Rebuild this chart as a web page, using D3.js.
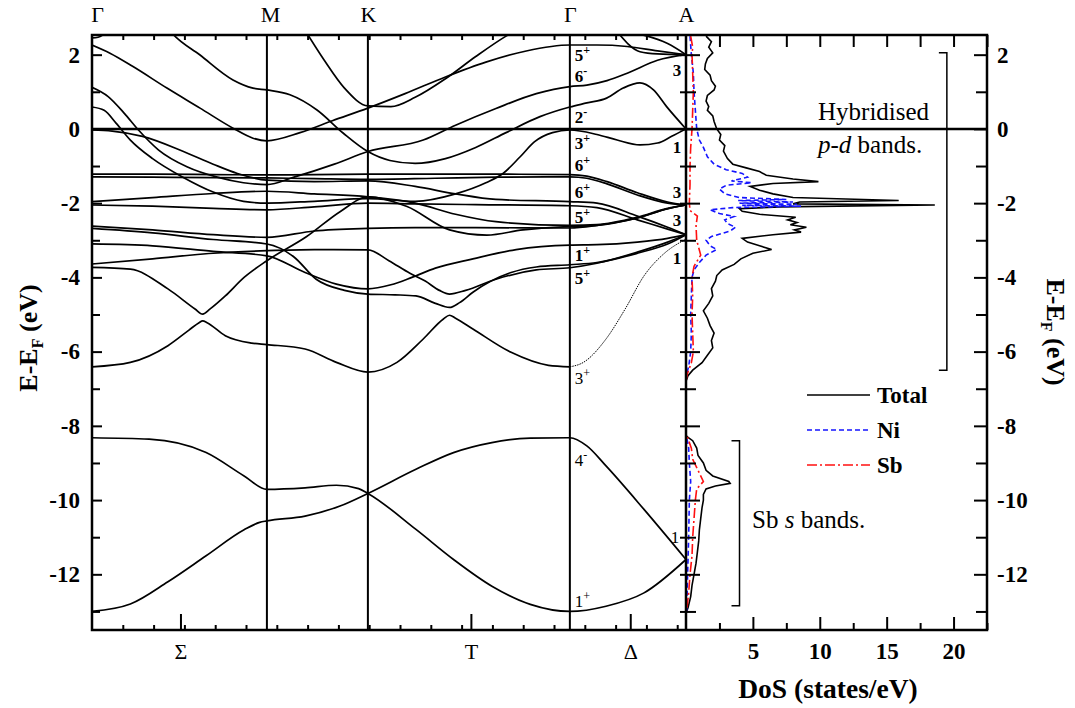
<!DOCTYPE html>
<html>
<head>
<meta charset="utf-8">
<script src="https://cdn.jsdelivr.net/npm/d3@7"></script>
<style>
  body { margin: 0; background: #fff; }
  svg text { font-family: "Liberation Serif", "Times New Roman", serif; fill: #000; }
</style>
</head>
<body>
<svg id="chart" width="1075" height="708"></svg>
<script>
// high symmetry points along the path (distance in reciprocal space)
const kPoints = [0, 0.866, 1.366, 2.366, 2.941];
const kNames = ["Γ", "M", "K", "Γ", "A"];
const kMid = [0.438, 1.876, 2.665];
const kMidNames = ["Σ", "T", "Δ"];

const energyMajor = [-12, -10, -8, -6, -4, -2, 0, 2];
const energyMinor = [-13, -11, -9, -7, -5, -3, -1, 1];
const dosMajor = [5, 10, 15, 20];
const dosMinor = [2.5, 7.5, 12.5, 17.5, 22.5];

// bands: [k, E-EF]
const bandSbLow = [[0,-13.0],[0.19,-12.8],[0.376,-12.2],[0.565,-11.5],[0.753,-10.8],[0.83,-10.6],[0.866,-10.56],[1.055,-10.43],[1.228,-10.16],[1.366,-9.82],[1.604,-9.17],[1.79,-8.72],[1.98,-8.45],[2.17,-8.33],[2.366,-8.32],[2.45,-8.54],[2.545,-9.08],[2.733,-10.25],[2.941,-11.6]];
const bandSbHigh = [[0,-8.32],[0.283,-8.36],[0.565,-8.72],[0.753,-9.35],[0.866,-9.71],[1.055,-9.67],[1.21,-9.6],[1.32,-9.69],[1.366,-9.82],[1.604,-10.79],[1.79,-11.6],[1.98,-12.32],[2.17,-12.81],[2.366,-13.0],[2.545,-12.86],[2.733,-12.5],[2.941,-11.6]];
const band3p = [[0,-6.41],[0.19,-6.29],[0.376,-5.84],[0.48,-5.42],[0.53,-5.22],[0.548,-5.17],[0.57,-5.22],[0.66,-5.57],[0.79,-5.77],[0.866,-5.81],[1.055,-5.93],[1.21,-6.29],[1.366,-6.55],[1.51,-6.29],[1.64,-5.66],[1.74,-5.12],[1.77,-5.02],[1.8,-5.1],[1.886,-5.39],[2.075,-6.02],[2.26,-6.37],[2.366,-6.41]];
const band3pA = [[2.366,-6.41],[2.433,-6.29],[2.545,-5.66],[2.64,-4.85],[2.733,-3.96],[2.83,-3.37],[2.941,-2.97]];
const bandD1 = [[0,-3.73],[0.19,-3.78],[0.376,-4.31],[0.51,-4.85],[0.548,-4.99],[0.585,-4.85],[0.66,-4.5],[0.753,-4.0],[0.866,-3.55],[1.063,-2.9],[1.228,-2.23],[1.366,-1.83],[1.56,-2.09],[1.77,-2.72],[1.955,-2.86],[2.134,-2.72],[2.366,-2.63],[2.5,-2.6],[2.7,-2.4],[2.85,-2.15],[2.941,-2.05]];
const bandD2 = [[0,-3.64],[0.3,-3.5],[0.6,-3.35],[0.866,-3.28],[1.1,-3.25],[1.366,-3.26],[1.47,-3.55],[1.574,-3.89],[1.65,-4.1],[1.72,-4.35],[1.77,-4.45],[1.85,-4.35],[2.0,-4.05],[2.2,-3.8],[2.366,-3.74],[2.5,-3.62],[2.7,-3.32],[2.85,-3.05],[2.941,-2.85]];
const bandD3 = [[0,-3.1],[0.3,-3.15],[0.6,-3.3],[0.866,-3.42],[1.055,-3.87],[1.21,-4.18],[1.366,-4.31],[1.48,-4.2],[1.584,-4.0],[1.7,-3.75],[1.886,-3.5],[2.1,-3.25],[2.366,-3.13],[2.5,-3.12],[2.7,-3.05],[2.85,-2.95],[2.941,-2.85]];
const bandD4 = [[0,-2.68],[0.3,-2.8],[0.6,-2.98],[0.866,-3.1],[1.0,-3.45],[1.11,-4.05],[1.25,-4.35],[1.366,-4.45],[1.5,-4.47],[1.604,-4.5],[1.7,-4.7],[1.77,-4.81],[1.82,-4.68],[1.886,-4.4],[2.075,-3.87],[2.2,-3.72],[2.366,-3.66],[2.5,-3.6],[2.7,-3.35],[2.85,-3.1],[2.941,-2.85]];
const bandD5 = [[0,-2.62],[0.3,-2.72],[0.6,-2.85],[0.866,-2.92],[1.1,-2.75],[1.366,-2.68],[1.6,-2.66],[1.9,-2.66],[2.366,-2.67],[2.5,-2.6],[2.7,-2.4],[2.85,-2.15],[2.941,-2.05]];
const bandD6 = [[0,-2.05],[0.3,-2.08],[0.6,-2.14],[0.866,-2.18],[1.1,-2.1],[1.366,-2.0],[1.6,-2.02],[1.9,-2.04],[2.366,-2.07],[2.5,-2.12],[2.7,-2.45],[2.85,-2.7],[2.941,-2.85]];
const bandD7 = [[0,-1.96],[0.3,-1.85],[0.6,-1.74],[0.866,-1.68],[1.1,-1.75],[1.366,-1.83],[1.6,-2.0],[1.8,-2.3],[2.0,-2.5],[2.366,-2.6],[2.5,-2.58],[2.7,-2.38],[2.85,-2.14],[2.941,-2.05]];
const bandFlat1 = [[0,-1.22],[0.3,-1.22],[0.6,-1.23],[0.866,-1.24],[1.1,-1.23],[1.366,-1.22],[1.7,-1.22],[2.0,-1.22],[2.366,-1.23],[2.45,-1.27],[2.55,-1.42],[2.7,-1.72],[2.85,-1.97],[2.941,-2.05]];
const bandFlat2 = [[0,-1.29],[0.3,-1.3],[0.6,-1.31],[0.866,-1.32],[1.1,-1.34],[1.366,-1.36],[1.7,-1.33],[2.0,-1.3],[2.366,-1.29],[2.45,-1.33],[2.55,-1.48],[2.7,-1.78],[2.85,-2.0],[2.941,-2.05]];
const bandS = [[0,-0.03],[0.1,-0.06],[0.25,-0.2],[0.45,-0.6],[0.6,-0.95],[0.72,-1.2],[0.866,-1.38],[1.1,-1.42],[1.366,-1.4],[1.6,-1.55],[1.8,-1.75],[2.0,-1.9],[2.366,-1.96],[2.5,-2.0],[2.7,-2.35],[2.85,-2.65],[2.941,-2.85]];
const bandR = [[0,0.59],[0.06,0.5],[0.12,0.15],[0.19,-0.3],[0.3,-0.8],[0.45,-1.3],[0.6,-1.7],[0.75,-1.95],[0.866,-2.0],[1.1,-1.95],[1.366,-1.88],[1.6,-1.95],[1.8,-1.75],[1.95,-1.45],[2.035,-1.2],[2.12,-0.75],[2.19,-0.35],[2.28,-0.1],[2.366,-0.03],[2.5,-0.15],[2.6,-0.3],[2.713,-0.43],[2.8,-0.38],[2.87,-0.2],[2.941,0.0]];
const bandQ = [[0,1.12],[0.08,0.87],[0.16,0.42],[0.23,-0.03],[0.33,-0.57],[0.47,-1.02],[0.62,-1.3],[0.75,-1.45],[0.866,-1.5],[1.0,-1.3],[1.2,-0.95],[1.366,-0.61],[1.64,-0.3],[1.8,0.1],[2.0,0.55],[2.2,0.95],[2.366,1.14],[2.45,1.18],[2.55,1.3],[2.65,1.5],[2.8,1.85],[2.941,2.0]];
const bandU2 = [[0.37,2.75],[0.396,2.58],[0.535,1.99],[0.698,1.32],[0.797,1.1],[0.866,1.05],[0.98,0.92],[1.114,0.51],[1.243,-0.11],[1.366,-0.61],[1.475,-0.85],[1.6,-0.93],[1.75,-0.8],[1.9,-0.5],[2.05,-0.1],[2.218,0.33],[2.366,0.59],[2.45,0.7],[2.548,0.83],[2.63,1.1],[2.713,1.24],[2.78,1.05],[2.845,0.6],[2.941,0.0]];
const bandU1 = [[0,2.26],[0.089,2.04],[0.203,1.68],[0.371,1.1],[0.535,0.56],[0.698,0.02],[0.797,-0.25],[0.866,-0.32],[1.03,-0.1],[1.19,0.22],[1.366,0.56],[1.55,0.95],[1.75,1.4],[1.95,1.8],[2.15,2.1],[2.366,2.26],[2.5,2.26],[2.65,2.22],[2.8,2.1],[2.941,2.0]];
const bandU3 = [[1.05,2.7],[1.15,1.85],[1.25,1.1],[1.366,0.62],[1.48,0.6],[1.6,0.85],[1.75,1.35],[1.9,1.95],[2.05,2.5],[2.15,2.8]];
const bandU4 = [[2.6,2.62],[2.713,2.08],[2.8,2.02],[2.941,2.0]];
const bandU5 = [[2.6,2.62],[2.75,2.5],[2.85,2.3],[2.941,2.0]];
const bandHook = [[0,2.45],[0.03,2.47],[0.06,2.55],[0.1,2.7]];

const bands = [bandSbLow, bandSbHigh, band3p, bandD1, bandD2, bandD3, bandD4, bandD5, bandD6, bandD7,
  bandFlat1, bandFlat2, bandS, bandR, bandQ, bandU2, bandU1, bandU3, bandU4, bandU5, bandHook];

// irreducible representation labels at Γ: [number, sign, E], and degeneracies at A
const gammaLabels = [["5","+",1.99],["6","-",1.43],["2","-",0.32],["3","+",-0.38],["6","+",-0.97],["6","+",-1.70],["5","+",-2.37],["1","+",-3.40],["5","+",-4.02]];
const gammaLabelsLow = [["3","+",-6.71],["4","-",-8.92],["1","+",-12.72]];
const aLabels = [["3",1.59],["1",-0.49],["3",-1.70],["3",-2.45],["1",-3.48]];
const aLabelsLow = [["1",-10.99]];

// density of states: [E-EF, states/eV]
const dosTotal = [[2.5,1.5],[2.35,1.9],[2.2,1.7],[2.05,2.0],[1.9,1.6],[1.75,1.45],[1.6,1.4],[1.45,1.8],[1.3,1.9],[1.15,2.2],[1.05,2.1],[0.9,1.6],[0.75,1.5],[0.6,1.7],[0.5,1.6],[0.35,2.0],[0.2,2.1],[0.0,2.3],[-0.15,2.6],[-0.3,2.5],[-0.45,2.9],[-0.6,2.8],[-0.8,3.1],[-0.95,3.5],[-1.05,4.5],[-1.15,5.5],[-1.25,6.0],[-1.35,8.0],[-1.42,9.9],[-1.47,6.5],[-1.55,4.8],[-1.65,5.5],[-1.75,6.5],[-1.85,8.0],[-1.93,15.9],[-1.97,8.5],[-2.02,8.0],[-2.05,18.6],[-2.1,7.0],[-2.15,4.0],[-2.22,4.2],[-2.3,5.5],[-2.38,8.2],[-2.45,7.6],[-2.52,8.3],[-2.58,7.8],[-2.65,9.0],[-2.72,8.1],[-2.78,8.6],[-2.85,6.5],[-2.95,4.2],[-3.05,4.6],[-3.15,5.5],[-3.25,6.4],[-3.35,5.0],[-3.5,4.1],[-3.65,3.6],[-3.8,2.7],[-3.95,2.3],[-4.1,2.2],[-4.3,1.9],[-4.5,2.0],[-4.7,1.7],[-4.9,1.3],[-5.1,1.6],[-5.3,1.8],[-5.5,2.1],[-5.7,1.9],[-5.9,2.0],[-6.1,1.6],[-6.3,1.2],[-6.5,0.5],[-6.65,0.15],[-6.8,0],[-8.25,0],[-8.3,0.1],[-8.4,0.5],[-8.6,0.8],[-8.8,0.9],[-9.0,1.3],[-9.2,1.5],[-9.35,2.0],[-9.5,3.2],[-9.55,3.3],[-9.62,2.2],[-9.7,1.5],[-9.85,1.3],[-10.0,1.3],[-10.2,1.2],[-10.5,1.1],[-10.8,1.0],[-11.1,0.95],[-11.4,0.85],[-11.7,0.75],[-12.0,0.6],[-12.3,0.45],[-12.6,0.35],[-12.9,0.15],[-13.05,0]];
const dosNi = [[2.5,0.3],[2.0,0.4],[1.5,0.55],[1.0,0.6],[0.5,0.7],[0.0,0.8],[-0.3,1.0],[-0.5,1.3],[-0.75,1.6],[-0.95,2.1],[-1.1,3.0],[-1.2,4.2],[-1.3,4.6],[-1.4,3.4],[-1.45,4.9],[-1.52,3.0],[-1.62,2.5],[-1.75,2.9],[-1.85,4.0],[-1.9,7.5],[-1.93,3.9],[-1.97,8.0],[-2.0,4.0],[-2.03,8.3],[-2.06,4.2],[-2.08,8.6],[-2.12,3.5],[-2.18,1.8],[-2.28,2.5],[-2.36,3.6],[-2.45,2.9],[-2.55,3.1],[-2.65,3.7],[-2.75,3.3],[-2.9,1.9],[-3.0,1.5],[-3.15,1.8],[-3.25,2.3],[-3.4,1.5],[-3.6,1.0],[-3.8,0.6],[-4.0,0.45],[-4.5,0.4],[-5.0,0.35],[-5.5,0.4],[-6.0,0.35],[-6.4,0.2],[-6.6,0.05],[-6.8,0],[-8.25,0],[-8.3,0.05],[-8.6,0.2],[-9.0,0.25],[-9.5,0.35],[-10.0,0.25],[-11.0,0.2],[-12.0,0.12],[-13.0,0.05]];
const dosSb = [[2.5,0.35],[2.2,0.5],[2.0,0.45],[1.5,0.5],[1.0,0.55],[0.5,0.5],[0.0,0.45],[-0.5,0.35],[-1.0,0.3],[-1.5,0.3],[-2.0,0.25],[-2.2,0.3],[-2.35,0.85],[-2.6,0.75],[-3.0,0.8],[-3.4,1.1],[-3.7,0.6],[-4.0,0.45],[-4.5,0.5],[-5.0,0.45],[-5.5,0.5],[-6.0,0.55],[-6.3,0.4],[-6.6,0.1],[-6.8,0],[-8.25,0],[-8.3,0.1],[-8.6,0.4],[-8.9,0.5],[-9.2,0.9],[-9.5,1.3],[-9.7,0.8],[-10.0,0.7],[-10.5,0.6],[-11.0,0.5],[-11.5,0.45],[-12.0,0.3],[-12.5,0.2],[-13.0,0.05]];

const legendNames = ["Total", "Ni", "Sb"];
const legendColors = ["#000", "#1515ff", "#ff1010"];
const legendDash = [null, "5,3", "10,3,2,3"];

// bracketed energy ranges: [dos position, E top, E bottom]
const bracketHybrid = [19.5, 2.05, -6.5];
const bracketSbS = [4.0, -8.4, -12.85];

// ---- layout ----
const xLeft = 92, xMid = 686, xRight = 987, yTop = 35, yBottom = 630;
const y = d3.scaleLinear().domain([-13.5, 2.53]).range([yBottom, yTop]);
const xk = d3.scaleLinear().domain([0, 2.941]).range([xLeft, xMid]);
const xd = d3.scaleLinear().domain([0, 22.5]).range([xMid, xRight]);

const svg = d3.select("#chart");
const defs = svg.append("defs");
defs.append("clipPath").attr("id", "clipBand").append("rect")
  .attr("x", xLeft).attr("y", yTop).attr("width", xMid - xLeft).attr("height", yBottom - yTop);
defs.append("clipPath").attr("id", "clipDos").append("rect")
  .attr("x", xMid).attr("y", yTop).attr("width", xRight - xMid).attr("height", yBottom - yTop);

// bands
const bandLine = d3.line().x(d => xk(d[0])).y(d => y(d[1])).curve(d3.curveMonotoneX);
const gBands = svg.append("g").attr("clip-path", "url(#clipBand)");
gBands.selectAll("path.band").data(bands).join("path")
  .attr("class", "band")
  .attr("d", bandLine)
  .attr("fill", "none").attr("stroke", "#000").attr("stroke-width", 1.7);
gBands.append("path").datum(band3pA)
  .attr("d", bandLine)
  .attr("fill", "none").attr("stroke", "#000").attr("stroke-width", 1).attr("stroke-dasharray", "1.5,1");

// dos curves
const dosLine = d3.line().x(d => xd(d[1])).y(d => y(d[0]));
const gDos = svg.append("g").attr("clip-path", "url(#clipDos)");
[dosTotal, dosNi, dosSb].forEach((series, i) => {
  gDos.append("path").datum(series)
    .attr("d", dosLine)
    .attr("fill", "none")
    .attr("stroke", legendColors[i])
    .attr("stroke-width", 1.6)
    .attr("stroke-dasharray", legendDash[i]);
});

// symmetry lines, fermi level and frame
svg.append("g").selectAll("line").data(kPoints.slice(1, 4)).join("line")
  .attr("x1", d => xk(d)).attr("x2", d => xk(d))
  .attr("y1", yTop).attr("y2", yBottom)
  .attr("stroke", "#000").attr("stroke-width", 2);
svg.append("line")
  .attr("x1", xk(2.941)).attr("x2", xk(2.941)).attr("y1", yTop).attr("y2", yBottom)
  .attr("stroke", "#000").attr("stroke-width", 2.5);
svg.append("line")
  .attr("x1", xLeft).attr("x2", xRight).attr("y1", y(0)).attr("y2", y(0))
  .attr("stroke", "#000").attr("stroke-width", 2.5);

// axes
function styleAxis(g, size, weight) {
  g.select(".domain").remove();
  g.selectAll(".tick line").attr("stroke", "#000").attr("stroke-width", 2);
  g.selectAll("text").attr("font-family", "Liberation Serif")
    .attr("font-size", size).attr("font-weight", weight).attr("fill", "#000");
}
const str = d => String(d);

svg.append("g").attr("transform", `translate(${xLeft},0)`)
  .call(d3.axisLeft(y).tickValues(energyMajor).tickSize(-10).tickPadding(12).tickFormat(str))
  .call(g => styleAxis(g, 23, "bold"));
svg.append("g").attr("transform", `translate(${xLeft},0)`)
  .call(d3.axisLeft(y).tickValues(energyMinor).tickSize(-8).tickFormat(""))
  .call(g => styleAxis(g, 0, "normal"));

svg.append("g").attr("transform", `translate(${xRight},0)`)
  .call(d3.axisRight(y).tickValues(energyMajor).tickSize(-13).tickPadding(10).tickFormat(str))
  .call(g => styleAxis(g, 23, "bold"));
svg.append("g").attr("transform", `translate(${xRight},0)`)
  .call(d3.axisRight(y).tickValues(energyMinor).tickSize(-11).tickFormat(""))
  .call(g => styleAxis(g, 0, "normal"));

// ticks on the panel divider
svg.append("g").attr("transform", `translate(${xMid},0)`)
  .call(d3.axisRight(y).tickValues(energyMajor).tickSize(14).tickFormat(""))
  .call(g => styleAxis(g, 0, "normal"));
svg.append("g").attr("transform", `translate(${xMid},0)`)
  .call(d3.axisRight(y).tickValues(energyMinor).tickSize(10).tickFormat(""))
  .call(g => styleAxis(g, 0, "normal"));
svg.append("g").attr("transform", `translate(${xMid},0)`)
  .call(d3.axisLeft(y).tickValues(energyMajor.concat(energyMinor)).tickSize(6).tickFormat(""))
  .call(g => styleAxis(g, 0, "normal"));

// k-path axes
const kMinor = d3.range(0.1525, 2.93, 0.1525);
svg.append("g").attr("transform", `translate(0,${yTop})`)
  .call(d3.axisTop(xk).tickValues(kMinor).tickSize(-5).tickFormat(""))
  .call(g => styleAxis(g, 0, "normal"));
svg.append("g").attr("transform", `translate(0,${yTop})`)
  .call(d3.axisTop(xk).tickValues(kPoints).tickSize(0).tickPadding(13).tickFormat((d, i) => kNames[i]))
  .call(g => styleAxis(g, 22, "normal"))
  .call(g => g.selectAll(".tick line").remove())
  .call(g => g.selectAll("text").attr("dx", (d, i) => i === 0 ? 5 : (i === 1 ? 3 : 0)));
svg.append("g").attr("transform", `translate(0,${yBottom})`)
  .call(d3.axisBottom(xk).tickValues(kMinor).tickSize(-5).tickFormat(""))
  .call(g => styleAxis(g, 0, "normal"));
svg.append("g").attr("transform", `translate(0,${yBottom})`)
  .call(d3.axisBottom(xk).tickValues(kMid).tickSize(-16).tickPadding(13).tickFormat((d, i) => kMidNames[i]))
  .call(g => styleAxis(g, 22, "normal"));

// dos axes
svg.append("g").attr("transform", `translate(0,${yBottom})`)
  .call(d3.axisBottom(xd).tickValues(dosMajor).tickSize(-13).tickPadding(13).tickFormat(str))
  .call(g => styleAxis(g, 23, "bold"));
svg.append("g").attr("transform", `translate(0,${yBottom})`)
  .call(d3.axisBottom(xd).tickValues(dosMinor).tickSize(-7).tickFormat(""))
  .call(g => styleAxis(g, 0, "normal"));
svg.append("g").attr("transform", `translate(0,${yTop})`)
  .call(d3.axisTop(xd).tickValues(dosMajor.concat(dosMinor)).tickSize(-12).tickFormat(""))
  .call(g => styleAxis(g, 0, "normal"));

// frame
svg.append("rect")
  .attr("x", xLeft).attr("y", yTop).attr("width", xRight - xLeft).attr("height", yBottom - yTop)
  .attr("fill", "none").attr("stroke", "#000").attr("stroke-width", 2.5);

// band labels at Γ
function repLabel(sel, list, weight) {
  const t = sel.selectAll("text").data(list).join("text")
    .attr("x", xk(2.366) + 5)
    .attr("y", d => y(d[2]) + 6)
    .attr("font-size", 17).attr("font-weight", weight);
  t.append("tspan").text(d => d[0]);
  t.append("tspan").attr("dy", -7).attr("font-size", 12).text(d => d[1]);
}
repLabel(svg.append("g"), gammaLabels, "bold");
repLabel(svg.append("g"), gammaLabelsLow, "normal");

svg.append("g").selectAll("text").data(aLabels).join("text")
  .attr("x", xk(2.941) - 9).attr("y", d => y(d[1]) + 6)
  .attr("text-anchor", "middle").attr("font-size", 17).attr("font-weight", "bold")
  .text(d => d[0]);
svg.append("g").selectAll("text").data(aLabelsLow).join("text")
  .attr("x", xk(2.941) - 11).attr("y", d => y(d[1]) + 6)
  .attr("text-anchor", "middle").attr("font-size", 17)
  .text(d => d[0]);

// brackets
[bracketHybrid, bracketSbS].forEach(b => {
  const x = xd(b[0]);
  svg.append("path")
    .attr("d", `M${x - 8},${y(b[1])}H${x}V${y(b[2])}H${x - 8}`)
    .attr("fill", "none").attr("stroke", "#000").attr("stroke-width", 1.5);
});

svg.append("text").attr("x", 818).attr("y", 120).attr("font-size", 25).text("Hybridised");
const pd = svg.append("text").attr("x", 818).attr("y", 153).attr("font-size", 25);
pd.append("tspan").attr("font-style", "italic").text("p");
pd.append("tspan").text("-");
pd.append("tspan").attr("font-style", "italic").text("d");
pd.append("tspan").text(" bands.");

const sbs = svg.append("text").attr("x", 752).attr("y", 528).attr("font-size", 25);
sbs.append("tspan").text("Sb ");
sbs.append("tspan").attr("font-style", "italic").text("s");
sbs.append("tspan").text(" bands.");

// legend
const leg = svg.append("g").selectAll("g").data(legendNames).join("g")
  .attr("transform", (d, i) => `translate(807,${395 + i * 35})`);
leg.append("line").attr("x1", 0).attr("x2", 63)
  .attr("stroke", (d, i) => legendColors[i]).attr("stroke-width", 1.6)
  .attr("stroke-dasharray", (d, i) => legendDash[i]);
leg.append("text").attr("x", 70).attr("y", 8).attr("font-size", 23).attr("font-weight", "bold").text(d => d);

// axis titles
function energyTitle(x, yc, angle) {
  const t = svg.append("text")
    .attr("transform", `translate(${x},${yc}) rotate(${angle})`)
    .attr("text-anchor", "middle").attr("font-size", 26).attr("font-weight", "bold");
  t.append("tspan").text("E-E");
  t.append("tspan").attr("font-size", 16).attr("dy", 6).text("F");
  t.append("tspan").attr("dy", -6).text(" (eV)");
}
energyTitle(37, 338, -90);
energyTitle(1047, 332, 90);

svg.append("text").attr("x", 828).attr("y", 698).attr("text-anchor", "middle")
  .attr("font-size", 27.5).attr("font-weight", "bold").text("DoS (states/eV)");
</script>
</body>
</html>
